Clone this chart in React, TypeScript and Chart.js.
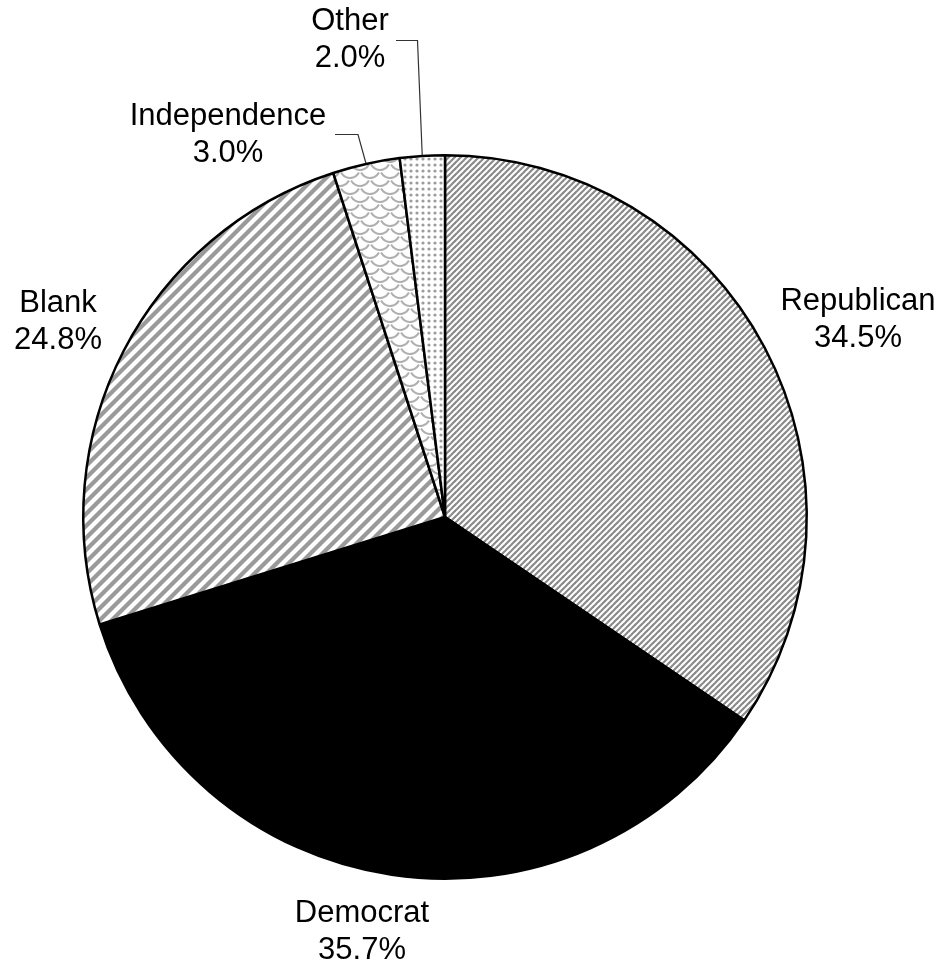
import React, { useEffect, useRef } from "react";
import { Chart, registerables } from "chart.js";

Chart.register(...registerables);

const categories = ["Republican", "Democrat", "Blank", "Independence", "Other"];
const shares = [34.5, 35.7, 24.8, 3.0, 2.0];

// label anchor (center x, first baseline y) per category — layout only
const labelAnchors = [
  { x: 858, y: 310 },
  { x: 362, y: 922 },
  { x: 58, y: 312 },
  { x: 228, y: 125 },
  { x: 350, y: 30 },
];
// leader lines: [elbow point, end point] (null when no leader)
const leaders: (number[][] | null)[] = [
  null,
  null,
  null,
  [[358, 134.5], [335, 134.5]],
  [[417.5, 40.5], [396, 40.5]],
];

function tile(w: number, h: number, draw: (c: CanvasRenderingContext2D) => void) {
  const cv = document.createElement("canvas");
  cv.width = w;
  cv.height = h;
  const c = cv.getContext("2d")!;
  c.fillStyle = "#ffffff";
  c.fillRect(0, 0, w, h);
  draw(c);
  return c.createPattern(cv, "repeat")!;
}

function diag(p: number, lw: number, color: string) {
  return tile(p, p, (c) => {
    c.strokeStyle = color;
    c.lineWidth = lw;
    c.lineCap = "square";
    for (let k = -1; k <= 1; k++) {
      c.beginPath();
      c.moveTo(k * p - 1, p + 1);
      c.lineTo(k * p + p + 1, -1);
      c.stroke();
    }
  });
}

function dots() {
  return tile(6, 6, (c) => {
    c.fillStyle = "#9c9c9c";
    c.beginPath();
    c.arc(3, 3, 1.6, 0, Math.PI * 2);
    c.fill();
  });
}

function scales() {
  return tile(20, 16, (c) => {
    c.strokeStyle = "#b0b0b0";
    c.lineWidth = 2;
    const centers = [
      [0, 0], [20, 0], [10, 8], [0, 16], [20, 16], [10, -8], [10, 24],
    ];
    for (const [x, y] of centers) {
      c.beginPath();
      c.arc(x, y, 10, 0.15 * Math.PI, 0.85 * Math.PI);
      c.stroke();
    }
  });
}

export default function App() {
  const ref = useRef<HTMLCanvasElement | null>(null);

  useEffect(() => {
    const canvas = ref.current!;
    const fills = [
      diag(6, 2.2, "#8a8a8a"),
      "#000000",
      diag(12, 4.2, "#9a9a9a"),
      scales(),
      dots(),
    ];

    const labelPlugin = {
      id: "outLabels",
      afterDraw(chart: any) {
        const ctx = chart.ctx as CanvasRenderingContext2D;
        const meta = chart.getDatasetMeta(0);
        ctx.save();
        ctx.font = '31px "Liberation Sans", Arial, sans-serif';
        ctx.fillStyle = "#000";
        ctx.textAlign = "center";
        ctx.textBaseline = "alphabetic";
        categories.forEach((name, i) => {
          const a = labelAnchors[i];
          ctx.fillText(name, a.x, a.y);
          ctx.fillText(shares[i].toFixed(1) + "%", a.x, a.y + 37);
          const ld = leaders[i];
          if (ld) {
            const arc = meta.data[i];
            const mid = (arc.startAngle + arc.endAngle) / 2;
            const sx = arc.x + Math.cos(mid) * (arc.outerRadius + 1);
            const sy = arc.y + Math.sin(mid) * (arc.outerRadius + 1);
            ctx.strokeStyle = "#333";
            ctx.lineWidth = 1.2;
            ctx.beginPath();
            ctx.moveTo(sx, sy);
            ld.forEach((p) => ctx.lineTo(p[0], p[1]));
            ctx.stroke();
          }
        });
        ctx.restore();
      },
    };

    const chart = new Chart(canvas, {
      type: "pie",
      data: {
        labels: categories,
        datasets: [
          {
            data: shares,
            backgroundColor: fills as any,
            borderColor: "#000",
            borderWidth: 2.5,
          },
        ],
      },
      options: {
        animation: false,
        responsive: false,
        maintainAspectRatio: false,
        layout: { padding: { top: 154, bottom: 88, left: 82, right: 137 } },
        plugins: {
          legend: { display: false },
          tooltip: { enabled: false },
        },
      },
      plugins: [labelPlugin],
    });
    return () => chart.destroy();
  }, []);

  return (
    <div style={{ position: "fixed", left: 0, top: 0, width: 945, height: 968, background: "#fff" }}>
      <canvas ref={ref} width={945} height={968} style={{ width: 945, height: 968 }} />
    </div>
  );
}
